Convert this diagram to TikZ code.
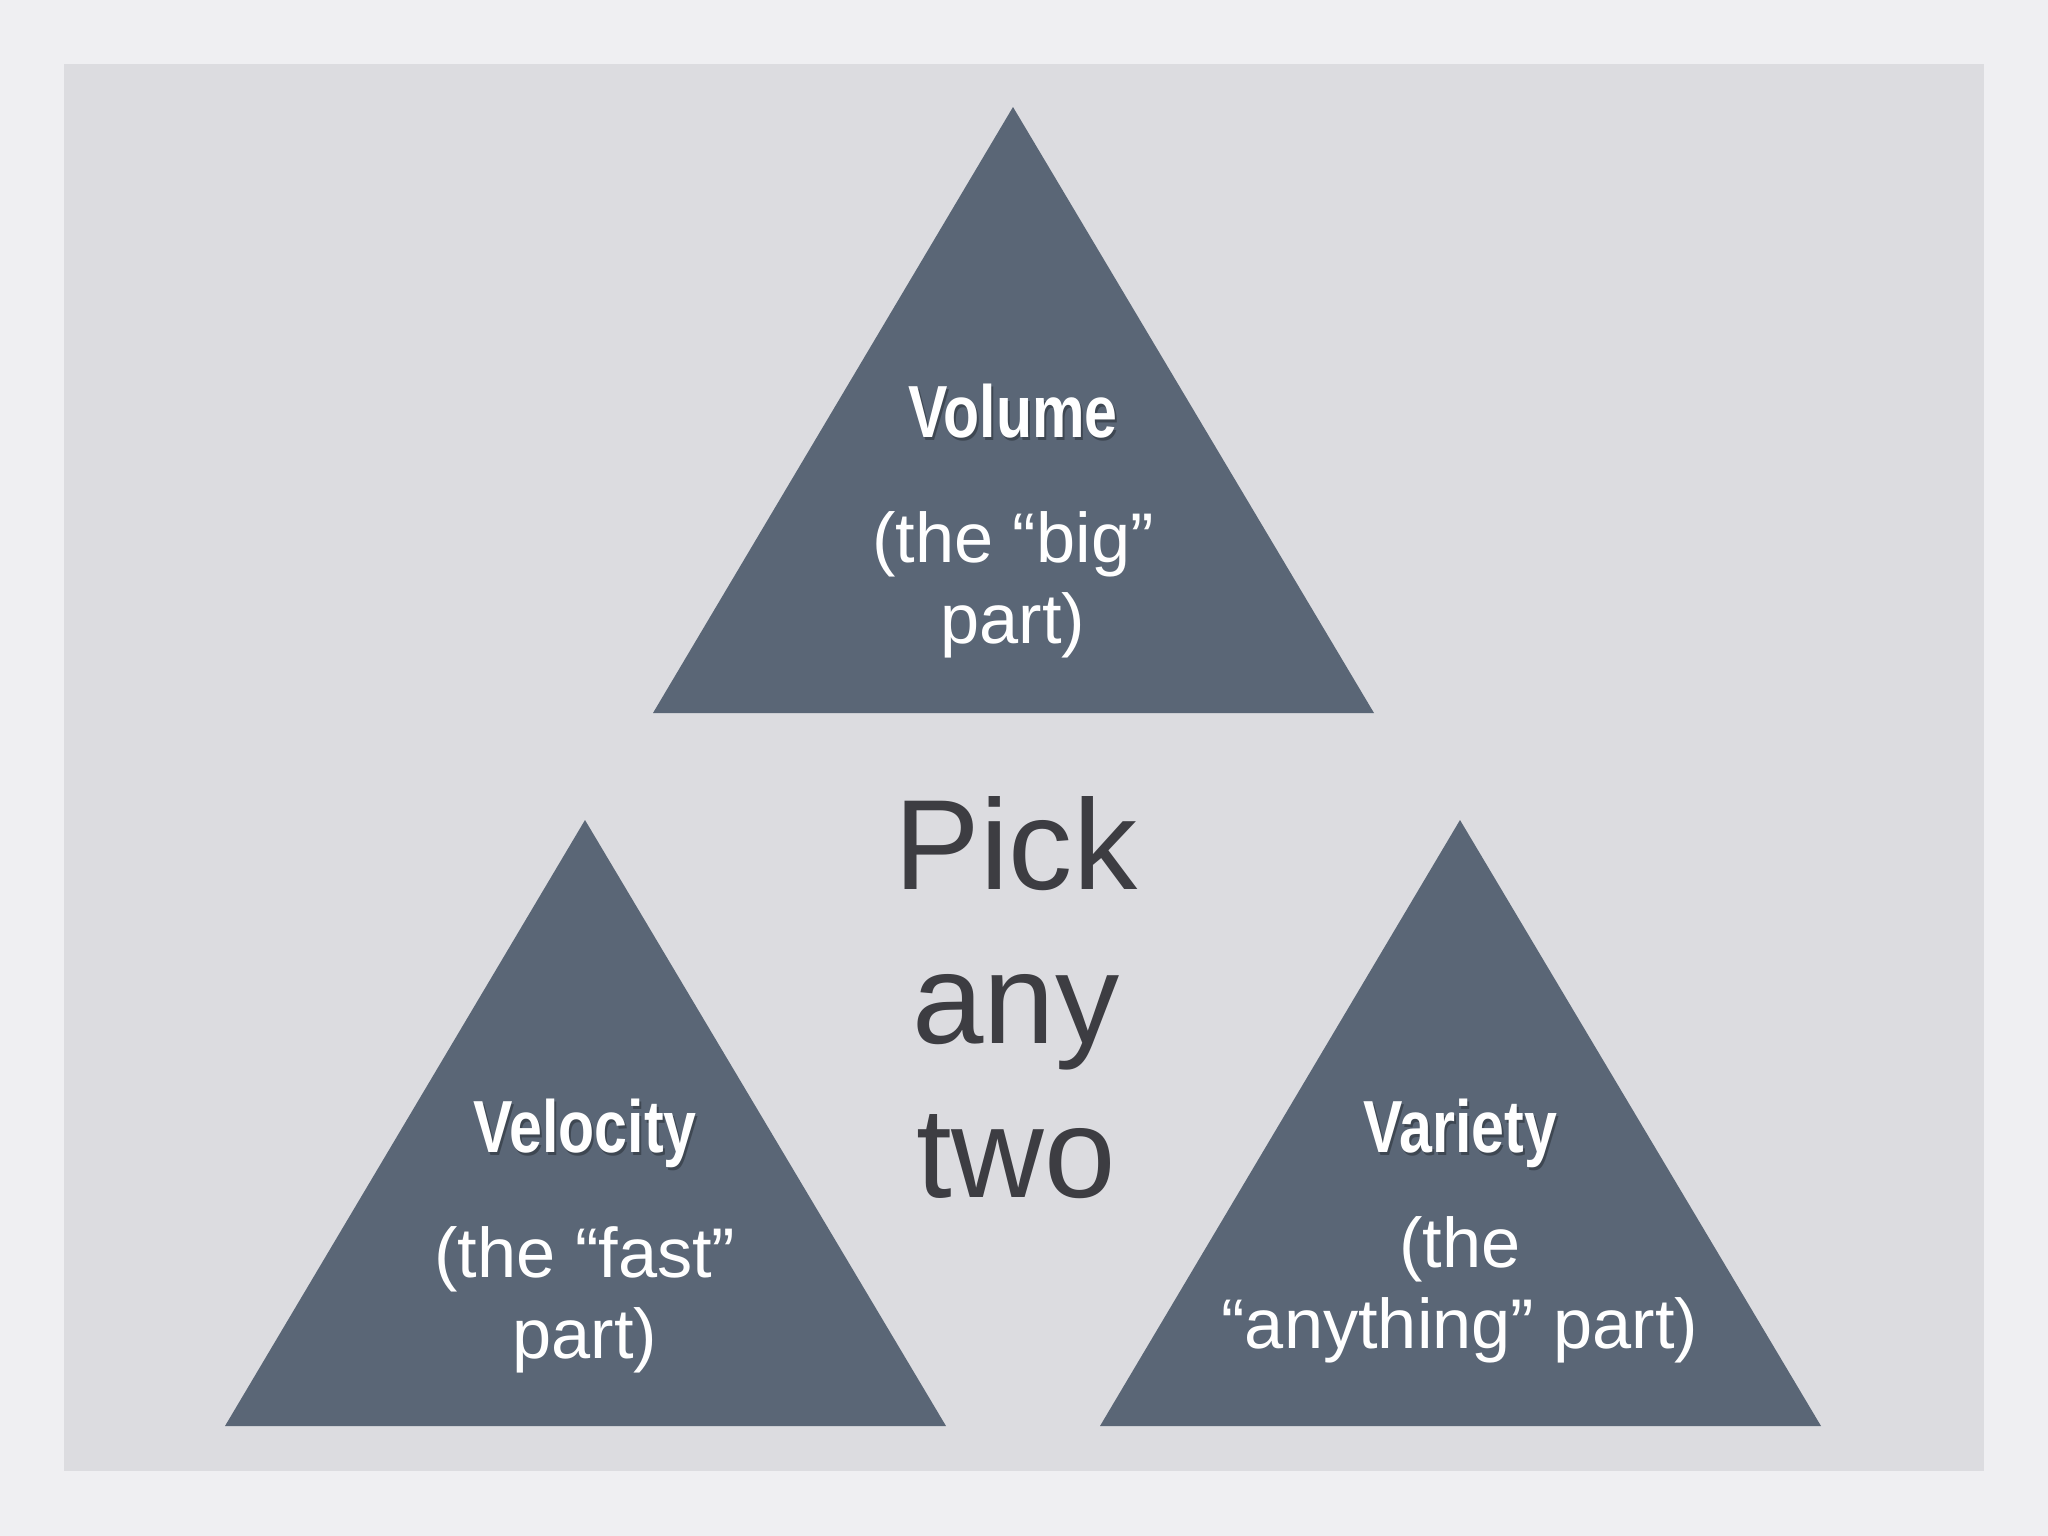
\documentclass[tikz,border=0pt]{standalone}
\usepackage{fontspec}
\setmainfont{Liberation Sans}
\newfontfamily\headfont[FakeStretch=0.8]{Liberation Sans}
\usepackage{xcolor}
\definecolor{PageGray}{HTML}{EFEFF2}
\definecolor{PanelGray}{HTML}{DCDCE0}
\definecolor{Slate}{HTML}{5A6676}
\definecolor{InkGray}{HTML}{3D3D42}

\tikzset{
    head/.style={anchor=base, text=white, font=\headfont\bfseries\fontsize{21}{25}\selectfont},
    headshadow/.style={head, text=black, opacity=0.3},
    desc/.style={anchor=base, text=white, align=center, font=\fontsize{20}{23}\selectfont},
    pick/.style={anchor=base, text=InkGray, font=\fontsize{36.5}{43.8}\selectfont}
}

\begin{document}
\begin{tikzpicture}[x=0.01cm, y=-0.01cm]
\useasboundingbox (0,0) rectangle (2048,1536);
\fill[PageGray] (0,0) rectangle (2048,1536);
\fill[PanelGray] (64,64) rectangle (1984,1471);

% triangles
\fill[Slate] (1013,107) -- (1374,713) -- (653,713) -- cycle;
\fill[Slate] (585,820) -- (946,1426) -- (225,1426) -- cycle;
\fill[Slate] (1460,820) -- (1821,1426) -- (1100,1426) -- cycle;

% top (desc nodes sit on the baseline of their last line)
\node[headshadow] at (1015,440) {Volume};
\node[head] (volume) at (1013,437) {Volume};
\node[desc] (volumetxt) at (1013,643) {(the “big”\\part)};

% left
\node[headshadow] at (587,1155) {Velocity};
\node[head] (velocity) at (585,1152) {Velocity};
\node[desc] (velocitytxt) at (585,1358) {(the “fast”\\part)};

% right
\node[headshadow] at (1462,1155) {Variety};
\node[head] (variety) at (1460,1152) {Variety};
\node[desc] (varietytxt) at (1460,1348) {(the\\“anything” part)};

% middle
\node[pick] (pick) at (1016,889) {Pick};
\node[pick] (any) at (1016,1043) {any};
\node[pick] (two) at (1016,1197) {two};
\end{tikzpicture}
\end{document}
